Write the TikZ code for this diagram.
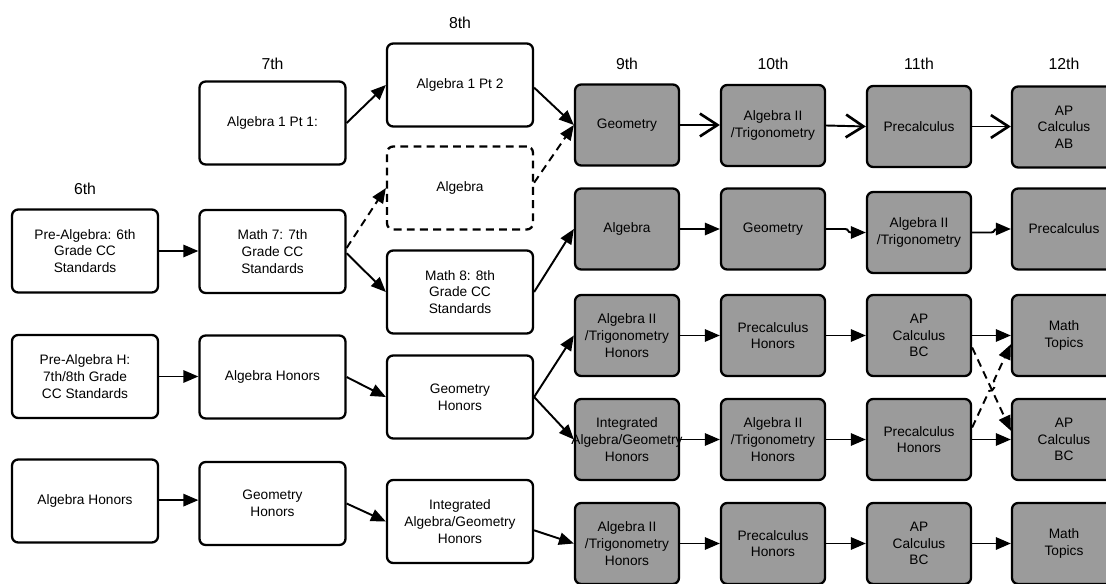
\documentclass[tikz,border=0pt]{standalone}
\usepackage{fontspec}
\setmainfont{Liberation Sans}
\usetikzlibrary{arrows.meta,calc}
\definecolor{crsgray}{RGB}{155,155,155}

\begin{document}
\begin{tikzpicture}[x=0.02cm,y=-0.02cm,course/.style={shape=rectangle,draw=black,line width=1.3pt,rounded corners=3.5pt,align=center,inner sep=1pt,minimum width=2.92cm,minimum height=1.66cm,font=\fontsize{7.8}{9.45}\selectfont},courseG/.style={course,fill=crsgray,minimum width=2.08cm,minimum height=1.62cm},courseD/.style={course,dash pattern=on 4.5pt off 3pt},grade/.style={font=\fontsize{9}{11}\selectfont},nxt/.style={line width=1.1pt,-{Triangle[length=8.5pt,width=7pt]}},nxtO/.style={line width=1.1pt,-{Straight Barb[length=10pt,width=13pt,line width=1.5pt]}},alt/.style={nxt,dash pattern=on 4.5pt off 3pt}]
\def\ca{85}
\def\cb{272.5}
\def\cc{460}
\def\cd{627}
\def\ce{773}
\def\cf{919}
\def\cg{1064}

\useasboundingbox (0,0) rectangle (1106,584);

\node[grade] (g6) at (\ca,189) {6th};
\node[grade] (g7) at (\cb,64) {7th};
\node[grade] (g8) at (\cc,23) {8th};
\node[grade] (g9) at (\cd,64) {9th};
\node[grade] (g10) at (\ce,64) {10th};
\node[grade] (g11) at (\cf,64) {11th};
\node[grade] (g12) at (\cg,64) {12th};

% 6th
\node[course] (pa6) at (\ca,251) {Pre-Algebra: 6th\\Grade CC\\Standards};
\node[course] (pah6) at (\ca,376.5) {Pre-Algebra H:\\7th/8th Grade\\CC Standards};
\node[course] (ah6) at (\ca,501) {Algebra Honors};

% 7th
\node[course] (ap1) at (\cb,123) {Algebra 1 Pt 1:};
\node[course] (m7) at (\cb,251.5) {Math 7: 7th\\Grade CC\\Standards};
\draw[nxt] (pa6.east) -- (pa6.east -| m7.west);
\node[course] (ah7) at (\cb,377) {Algebra Honors};
\draw[nxt] (pah6.east) -- (pah6.east -| ah7.west);
\node[course] (gh7) at (\cb,503.5) {Geometry\\Honors};
\draw[nxt] ([yshift=0.5pt]ah6.east) -- ([yshift=0.5pt]ah6.east -| gh7.west);

% 8th
\node[course] (ap2) at (\cc,85) {Algebra 1 Pt 2};
\draw[nxt] (ap1.east) -- (ap2.west);
\node[courseD] (alg8) at (\cc,188) {Algebra};
\draw[alt] ([yshift=2pt]m7.east) -- (alg8.west);
\node[course] (m8) at (\cc,292) {Math 8: 8th\\Grade CC\\Standards};
\draw[nxt] ([yshift=-1pt]m7.east) -- (m8.west);
\node[course] (gh8) at (\cc,397) {Geometry\\Honors};
\draw[nxt] (ah7.east) -- (gh8.west);
\node[course] (iag8) at (\cc,521.5) {Integrated\\Algebra/Geometry\\Honors};
\draw[nxt] (gh7.east) -- (iag8.west);

% 9th
\node[courseG] (geo9) at (\cd,125) {Geometry};
\draw[nxt] ([yshift=-1.5pt]ap2.east) -- (geo9.west);
\draw[alt] ([yshift=3pt]alg8.east) -- (geo9.west);
\node[courseG] (alg9) at (\cd,229) {Algebra};
\draw[nxt] (m8.east) -- (alg9.west);
\node[courseG] (a2h9) at (\cd,335.5) {Algebra II\\/Trigonometry\\Honors};
\draw[nxt] (gh8.east) -- (a2h9.west);
\node[courseG] (iag9) at (\cd,439.5) {Integrated\\\makebox[0pt]{Algebra/Geometry}\\Honors};
\draw[nxt] (gh8.east) -- (iag9.west);
\node[courseG] (a2hb9) at (\cd,543.5) {Algebra II\\/Trigonometry\\Honors};
\draw[nxt] ([yshift=-5pt]iag8.east) -- (a2hb9.west);

% 10th
\node[courseG] (a2t10) at (\ce,125.5) {Algebra II\\/Trigonometry};
\draw[nxtO] (geo9.east) -- (geo9.east -| a2t10.west);
\node[courseG] (geo10) at (\ce,229) {Geometry};
\draw[nxt] (alg9.east) -- (geo10.west);
\node[courseG] (pch10) at (\ce,335.5) {Precalculus\\Honors};
\draw[nxt] (a2h9.east) -- (pch10.west);
\node[courseG] (a2h10) at (\ce,439.5) {Algebra II\\/Trigonometry\\Honors};
\draw[nxt] (iag9.east) -- (a2h10.west);
\node[courseG] (pchb10) at (\ce,543.5) {Precalculus\\Honors};
\draw[nxt] (a2hb9.east) -- (pchb10.west);

% 11th
\node[courseG] (pc11) at (\cf,126.5) {Precalculus};
\draw[nxtO] (a2t10.east) -- (pc11.west);
\node[courseG] (a2t11) at (\cf,232.5) {Algebra II\\/Trigonometry};
\draw[nxt] (geo10.east) -- ++(19,0) .. controls +(4,0) and +(-4,0) .. ++(6,3.5) -- (a2t11.west);
\node[courseG] (bc11) at (\cf,335.5) {AP\\Calculus\\BC};
\draw[nxt] (pch10.east) -- (bc11.west);
\node[courseG] (pch11) at (\cf,439.5) {Precalculus\\Honors};
\draw[nxt] (a2h10.east) -- (pch11.west);
\node[courseG] (bcb11) at (\cf,543.5) {AP\\Calculus\\BC};
\draw[nxt] (pchb10.east) -- (bcb11.west);

% 12th
\node[courseG] (ab12) at (\cg,127) {AP\\Calculus\\AB};
\draw[nxtO] (pc11.east) -- (pc11.east -| ab12.west);
\node[courseG] (pc12) at (\cg,229) {Precalculus};
\draw[nxt] (a2t11.east) -- ++(19,0) .. controls +(4,0) and +(-4,0) .. ++(6,-3.5) -- (pc12.west);
\node[courseG] (mt12) at (\cg,335.5) {Math\\Topics};
\draw[nxt] (bc11.east) -- (mt12.west);
\node[courseG] (bc12) at (\cg,439.5) {AP\\Calculus\\BC};
\draw[nxt] (pch11.east) -- (bc12.west);
\draw[alt] ([yshift=-6.8pt]bc11.east) -- ([yshift=5pt]bc12.west);
\coordinate (hopA) at ([yshift=6.8pt]pch11.east);
\coordinate (hopB) at ([yshift=-5pt]mt12.west);
\draw[alt] (hopA) -- ($(hopA)!0.44!(hopB)$) to[bend right=90] ($(hopA)!0.56!(hopB)$) -- (hopB);
\node[courseG] (mtb12) at (\cg,543.5) {Math\\Topics};
\draw[nxt] (bcb11.east) -- (mtb12.west);
\end{tikzpicture}
\end{document}
